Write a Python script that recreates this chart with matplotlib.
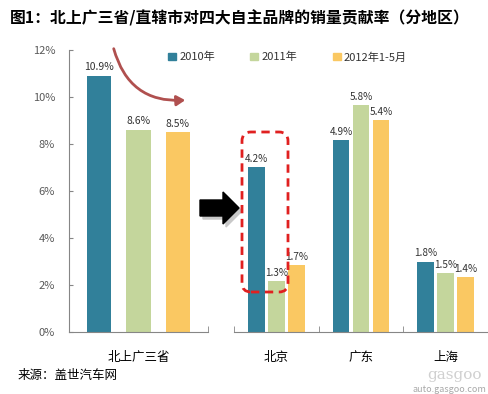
import matplotlib
matplotlib.use("Agg")
import matplotlib.pyplot as plt
from matplotlib.patches import FancyArrowPatch, FancyBboxPatch, Polygon
from matplotlib.transforms import IdentityTransform
from matplotlib.ticker import FuncFormatter

plt.rcParams["font.family"] = ["Noto Sans CJK SC", "DejaVu Sans"]

# --- data ---
years = ["2010年", "2011年", "2012年1-5月"]
colors = ["#31809A", "#C4D69C", "#FAC862"]

total_label = ["北上广三省"]
total_vals = [10.9, 8.6, 8.5]

regions = ["北京", "广东", "上海"]
v2010 = [4.2, 4.9, 1.8]
v2011 = [1.3, 5.8, 1.5]
v2012 = [1.7, 5.4, 1.4]

W, H = 489, 394
fig = plt.figure(figsize=(W / 100, H / 100), dpi=100)


def box(x0, y0, x1, y1):
    # pixel box (image coords, y down) -> figure fraction rect
    return [x0 / W, 1 - y1 / H, (x1 - x0) / W, (y1 - y0) / H]


grey = "#595959"
axcol = "#868686"
lblcol = "#333333"

# --- left panel: three-province total ---
ax1 = fig.add_axes(box(69, 50, 208, 332))
offs = [-0.284, 0.0, 0.284]
for i, vals in enumerate(total_vals):
    ax1.bar(offs[i], vals, width=0.173, color=colors[i])
    ax1.text(offs[i], vals + 0.15, f"{vals}%", ha="center", va="bottom",
             fontsize=7.5, color=lblcol)
ax1.set_xlim(-0.5, 0.5)
ax1.set_ylim(0, 12)
ax1.set_yticks(range(0, 13, 2))
ax1.yaxis.set_major_formatter(FuncFormatter(lambda v, p: f"{int(v)}%"))
ax1.set_xticks([0])
ax1.set_xticklabels(total_label, fontsize=9)
ax1.set_xticks([0.5], minor=True)
ax1.tick_params(axis="x", which="major", length=0, pad=14)
ax1.tick_params(axis="x", which="minor", direction="in", length=4, color=axcol)
ax1.tick_params(axis="y", direction="in", length=3, color=axcol, labelsize=8,
                labelcolor=grey, pad=10)
for s in ["top", "right"]:
    ax1.spines[s].set_visible(False)
for s in ["left", "bottom"]:
    ax1.spines[s].set_color(axcol)

# --- right panel: by region (own, hidden scale) ---
ax2 = fig.add_axes(box(234, 50, 488, 332))
x = list(range(len(regions)))
for k, series in enumerate([v2010, v2011, v2012]):
    off = (k - 1) * 0.236
    ax2.bar([xi + off for xi in x], series, width=0.2, color=colors[k])
    for xi, v in zip(x, series):
        ax2.text(xi + off, v + 0.08, f"{v}%", ha="center", va="bottom",
                 fontsize=7.2, color=lblcol)
ax2.set_xlim(-0.5, 2.5)
ax2.set_ylim(0, 7.2)
ax2.set_yticks([])
ax2.set_xticks(x)
ax2.set_xticklabels(regions, fontsize=9)
ax2.set_xticks([-0.5, 0.5, 1.5], minor=True)
ax2.tick_params(axis="x", which="major", length=0, pad=14)
ax2.tick_params(axis="x", which="minor", direction="in", length=4, color=axcol)
for s in ["top", "right", "left"]:
    ax2.spines[s].set_visible(False)
ax2.spines["bottom"].set_color(axcol)

# --- legend ---
handles = [plt.Rectangle((0, 0), 1, 1, color=c) for c in colors]
fig.legend(handles, years, loc="upper left", bbox_to_anchor=(158 / W, 1 - 42 / H),
           ncol=3, frameon=False, fontsize=8, handlelength=0.7, handleheight=0.7,
           handletextpad=0.3, columnspacing=3.2, labelcolor=lblcol)

# --- title and source ---
fig.text(10 / W, 1 - 18 / H, "图1：北上广三省/直辖市对四大自主品牌的销量贡献率（分地区）",
         fontsize=11.4, fontweight="bold", va="center", ha="left")
fig.text(18 / W, 1 - 376 / H, "来源：盖世汽车网", fontsize=9, va="center", ha="left")
fig.text(486 / W, 1 - 389 / H, "auto.gasgoo.com", fontsize=6.5, color="#A8A8A8",
         va="center", ha="right")
fig.text(482 / W, 1 - 375 / H, "gasgoo", fontsize=11, color="#D0D0D0",
         va="center", ha="right", family="DejaVu Serif")

# --- annotations (display pixel coords) ---
ident = IdentityTransform()


def d(xp, yp):
    return (xp, H - yp)


curve = FancyArrowPatch(d(113, 46), d(188, 100), transform=ident,
                        connectionstyle="arc3,rad=0.42",
                        arrowstyle="-|>,head_length=5,head_width=3",
                        color="#B0504F", lw=2)
fig.add_artist(curve)

shadow = Polygon([d(x_, y_) for x_, y_ in
                  [(203, 203), (226, 203), (226, 195), (242, 211), (226, 227),
                   (226, 219), (203, 219)]],
                 closed=True, transform=ident, color="#C8C8C8", zorder=4)
arrow = Polygon([d(x_, y_) for x_, y_ in
                 [(200, 200), (223, 200), (223, 192), (239, 208), (223, 224),
                  (223, 216), (200, 216)]],
                closed=True, transform=ident, color="black", zorder=5)
fig.add_artist(shadow)
fig.add_artist(arrow)

rect = FancyBboxPatch(d(242, 292), 46, 160, transform=ident,
                      boxstyle="round,pad=0,rounding_size=9",
                      fill=False, edgecolor="#E02020", lw=2, linestyle=(0, (3, 2)),
                      zorder=6)
fig.add_artist(rect)

fig.savefig("out.png", dpi=100, facecolor="white")
